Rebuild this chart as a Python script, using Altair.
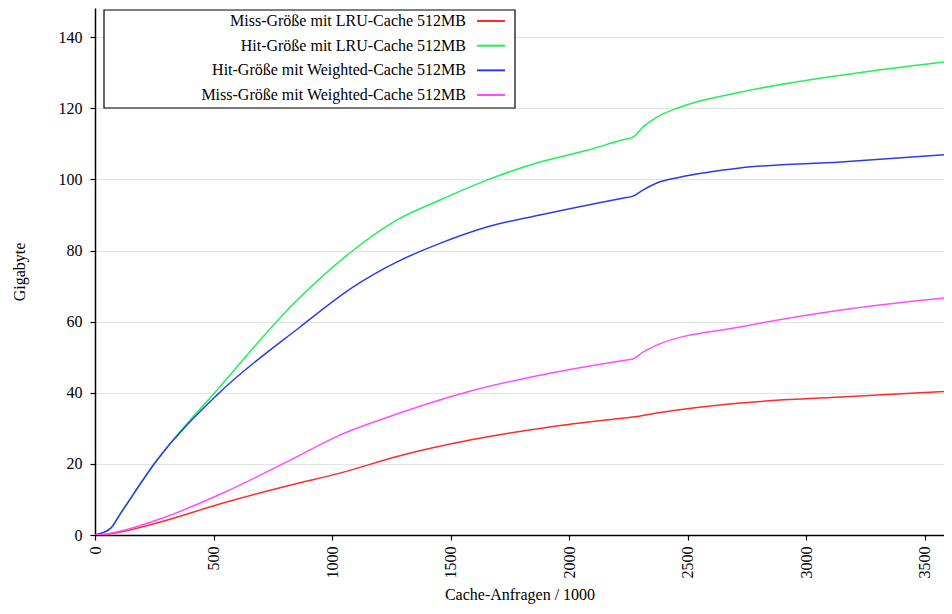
import altair as alt
import pandas as pd

series_names = [
    "Miss-Größe mit LRU-Cache 512MB",
    "Hit-Größe mit LRU-Cache 512MB",
    "Hit-Größe mit Weighted-Cache 512MB",
    "Miss-Größe mit Weighted-Cache 512MB",
]
series_colors = ["#ff2a2a", "#22ee55", "#2a3cee", "#ff4dff"]

miss_lru_x = [0, 50, 261, 540, 822, 1033, 1286, 1582, 1919, 2230, 2269, 2370, 2720, 3146, 3614]
miss_lru_y = [0, 0.2, 3.4, 9, 14, 17.4, 22.3, 26.7, 30.4, 32.9, 33.2, 34.3, 37.1, 38.8, 40.5]

hit_lru_x = [0, 63, 110, 261, 515, 852, 1088, 1274, 1455, 1653, 1877, 2075, 2230, 2269, 2311, 2370, 2467, 2720, 3146, 3614]
hit_lru_y = [0, 1.7, 6.3, 21, 40.8, 66, 80, 88.6, 94.2, 99.8, 104.9, 108.2, 111.2, 111.9, 114.7, 117.5, 120.3, 124.5, 129.3, 133.3]

hit_w_x = [0, 63, 110, 261, 515, 865, 1088, 1274, 1455, 1653, 1877, 2230, 2269, 2311, 2370, 2467, 2720, 3146, 3614]
hit_w_y = [0, 1.7, 6.3, 21, 39.4, 58.5, 69.7, 76.8, 82, 86.6, 90, 94.8, 95.3, 97, 99, 100.6, 103.2, 104.9, 107.1]

miss_w_x = [0, 50, 261, 540, 822, 1033, 1286, 1569, 1919, 2230, 2269, 2311, 2370, 2720, 3146, 3614]
miss_w_y = [0, 0.3, 4.2, 11.8, 21, 28.1, 34.3, 40.2, 45.5, 49.1, 49.5, 51.4, 53.4, 58.5, 63.3, 66.9]

x_ticks = [0, 500, 1000, 1500, 2000, 2500, 3000, 3500]
y_ticks = [0, 20, 40, 60, 80, 100, 120, 140]

rows = []
for name, xs, ys in [
    (series_names[0], miss_lru_x, miss_lru_y),
    (series_names[1], hit_lru_x, hit_lru_y),
    (series_names[2], hit_w_x, hit_w_y),
    (series_names[3], miss_w_x, miss_w_y),
]:
    for i, (a, b) in enumerate(zip(xs, ys)):
        rows.append({"series": name, "x": a, "y": b, "order": i})
df = pd.DataFrame(rows)
legend_df = pd.DataFrame({"series": series_names})

FONT = "Liberation Serif"

color = alt.Color("series:N", scale=alt.Scale(domain=series_names, range=series_colors), legend=None)

lines = alt.Chart(df).mark_line(strokeWidth=1.5, clip=True, interpolate="monotone").encode(
    x=alt.X("x:Q", scale=alt.Scale(domain=[0, 3581], nice=False),
            axis=alt.Axis(values=x_ticks, format="d", title="Cache-Anfragen / 1000", labelAngle=270,
                          labelAlign="right", labelBaseline="middle", labelPadding=6,
                          grid=False, titlePadding=8)),
    y=alt.Y("y:Q", scale=alt.Scale(domain=[0, 148.2], nice=False),
            axis=alt.Axis(values=y_ticks, format="d", title="Gigabyte", grid=True, labelPadding=8,
                          titlePadding=31)),
    color=color,
    order="order:Q",
    detail="series:N",
)

box = alt.Chart(pd.DataFrame({"k": [0]})).mark_rect(fill="white", stroke="black", strokeWidth=1.2).encode(
    x=alt.value(9), x2=alt.value(420), y=alt.value(2), y2=alt.value(100)
)

leg_y = alt.Y("series:N", scale=alt.Scale(type="point", domain=series_names, range=[13, 87], padding=0), axis=None)

leg_text = alt.Chart(legend_df).mark_text(align="right", baseline="middle", font=FONT, fontSize=16, color="black").encode(
    x=alt.value(371), y=leg_y, text="series:N"
)

leg_rule = alt.Chart(legend_df).mark_rule(strokeWidth=2).encode(
    x=alt.value(382), x2=alt.value(410), y=leg_y, color=color
)

chart = alt.layer(lines, box, leg_text, leg_rule).resolve_scale(y="independent").properties(
    width=849, height=527,
    autosize=alt.AutoSizeParams(type="none"),
    padding={"left": 87, "top": 0, "right": 0, "bottom": 71},
).configure_view(stroke=None).configure_axis(
    labelFont=FONT, titleFont=FONT, labelFontSize=16, titleFontSize=16,
    titleFontWeight="normal", labelColor="black", titleColor="black",
    domainColor="black", domainWidth=1.5, tickColor="black", tickSize=5, tickWidth=1.2,
    gridColor="#e3e3e3", gridWidth=1.2,
)

chart.save("out.html", embed_options={"renderer": "svg", "actions": False})
